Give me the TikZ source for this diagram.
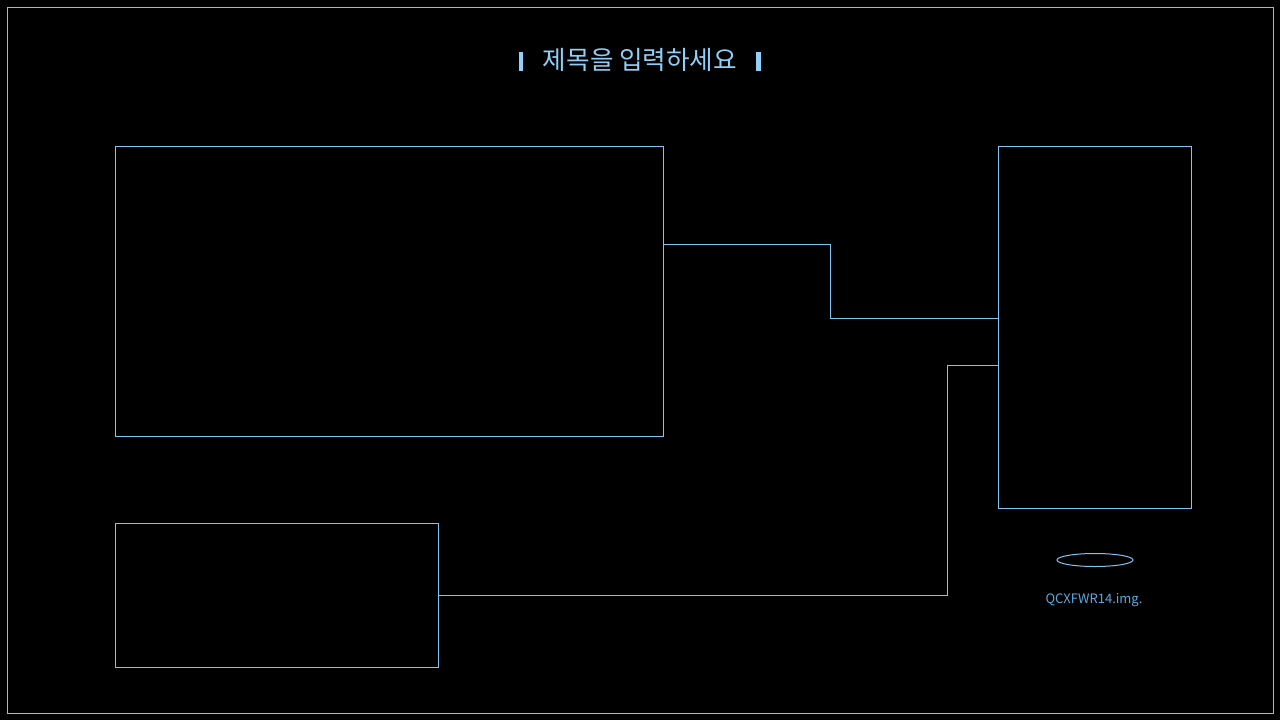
\documentclass[tikz,border=0pt]{standalone}
\usepackage{fontspec}
\setmainfont{Noto Sans CJK KR}
\usetikzlibrary{shapes.geometric}
\definecolor{linecol}{HTML}{7EC4F4}
\definecolor{titlecol}{HTML}{8FCFF8}
\definecolor{labelcol}{HTML}{5AAAE2}

\begin{document}
\begin{tikzpicture}[x=1pt,y=-1pt]
      \tikzset{
        panel/.style={draw=linecol,line width=1pt,inner sep=0pt,anchor=north west},
        bar/.style={fill=titlecol,inner sep=0pt,minimum width=4.5pt,minimum height=19pt},
        wire/.style={draw=linecol,line width=1pt}
      }

      \fill[black] (0,0) rectangle (1280,720);
      \useasboundingbox (0,0) rectangle (1280,720);
      \draw[linecol,line width=1pt] (7,7) rectangle (1273,713);

      % title
      \node[text=titlecol,font=\fontsize{25.6}{30}\selectfont] (title) at (640,60) {제목을 입력하세요};
      \node[bar] (barL) at (521,61.5) {};
      \node[bar] (barR) at (758.5,61.5) {};

      % boxes
      \node[panel,minimum width=548pt,minimum height=290pt] (main) at (115,146) {};
      \node[panel,minimum width=193pt,minimum height=362pt] (side) at (998,146) {};
      \node[panel,minimum width=323pt,minimum height=144pt] (low) at (115,523) {};

      \node[draw=linecol,line width=1pt,ellipse,inner sep=0pt,minimum width=76pt,minimum height=13pt] (disk) at (1095,560) {};
      \node[text=labelcol,font=\fontsize{13}{16}\selectfont] (img) at (1094,600.5) {QCXFWR14.img.};

      % connectors
      \coordinate (k1) at (830,244);
      \coordinate (k2) at (830,318);
      \coordinate (k3) at (947,595);
      \coordinate (k4) at (947,365);

      \draw[wire] (main.east |- k1) -- (k1) -- (k2) -- (side.west |- k2);
      \draw[wire] (low.east |- k3) -- (k3) -- (k4) -- (side.west |- k4);
\end{tikzpicture}
\end{document}
